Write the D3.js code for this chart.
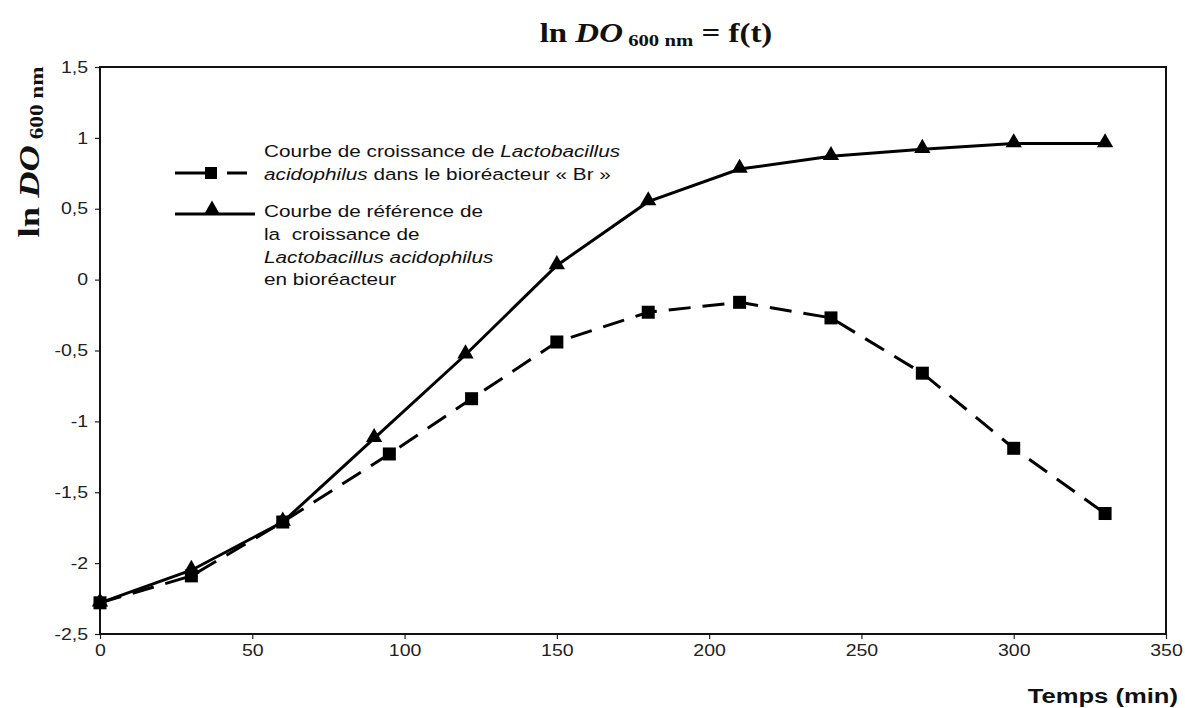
<!DOCTYPE html>
<html>
<head>
<meta charset="utf-8">
<script src="https://cdn.jsdelivr.net/npm/d3@7"></script>
<style>
  body { margin: 0; background: #fff; }
  svg { display: block; }
</style>
</head>
<body>
<div id="chart"></div>
<script>
// data
const refTimes = [0, 30, 60, 90, 120, 150, 180, 210, 240, 270, 300, 330];
const refValues = [-2.28, -2.05, -1.71, -1.12, -0.53, 0.10, 0.55, 0.78, 0.87, 0.92, 0.96, 0.96];
const brTimes = [0, 30, 60, 95, 122, 150, 180, 210, 240, 270, 300, 330];
const brValues = [-2.28, -2.09, -1.71, -1.23, -0.84, -0.44, -0.23, -0.16, -0.27, -0.66, -1.19, -1.65];
const xTicks = [0, 50, 100, 150, 200, 250, 300, 350];
const yTicks = [1.5, 1, 0.5, 0, -0.5, -1, -1.5, -2, -2.5];

const W = 1185, H = 708;
const margin = { top: 67, right: 19, bottom: 74, left: 100 },
    width = W - margin.left - margin.right,
    height = H - margin.top - margin.bottom;

// the scanned figure is stretched sideways, so text gets a horizontal scale
const sx = 1.22;
const sans = "Liberation Sans, Arial, sans-serif";
const serif = "Liberation Serif, Times New Roman, serif";

const svg = d3.select("#chart")
    .append("svg")
    .attr("width", W)
    .attr("height", H);

const g = svg.append("g")
    .attr("transform", `translate(${margin.left}, ${margin.top})`);

const x = d3.scaleLinear().domain([0, 350]).range([0, width]);
const y = d3.scaleLinear().domain([-2.5, 1.5]).range([height, 0]);

const fmt = d => String(d).replace(".", ",");

// axes
const xAxis = g.append("g")
    .attr("transform", `translate(0, ${height})`)
    .call(d3.axisBottom(x).tickValues(xTicks).tickSize(5).tickPadding(6).tickFormat(fmt));
const yAxis = g.append("g")
    .call(d3.axisLeft(y).tickValues(yTicks).tickSize(5).tickPadding(6).tickFormat(fmt));

[xAxis, yAxis].forEach(a => {
    a.select(".domain").remove();
    a.selectAll("line").attr("stroke", "#222").attr("stroke-width", 1.2);
    a.selectAll("text")
        .style("font-family", sans)
        .style("font-size", "16px")
        .attr("fill", "#222");
});
xAxis.selectAll("text").attr("transform", `scale(${sx},1)`);
yAxis.selectAll("text")
    .attr("x", -12 / sx)
    .attr("transform", `scale(${sx},1)`);

// frame
g.append("rect")
    .attr("x", 0).attr("y", 0)
    .attr("width", width).attr("height", height)
    .attr("fill", "none")
    .attr("stroke", "#111")
    .attr("stroke-width", 2);

const line = d3.line()
    .x(d => x(d[0]))
    .y(d => y(d[1]));

const refData = refTimes.map((t, i) => [t, refValues[i]]);
const brData = brTimes.map((t, i) => [t, brValues[i]]);

// Br curve (dashed, squares)
g.append("path")
    .datum(brData)
    .attr("d", line)
    .attr("fill", "none")
    .attr("stroke", "#000")
    .attr("stroke-width", 3)
    .attr("stroke-dasharray", "22,12");

// reference curve (solid, triangles)
g.append("path")
    .datum(refData)
    .attr("d", line)
    .attr("fill", "none")
    .attr("stroke", "#000")
    .attr("stroke-width", 3);

const sq = 13;
g.selectAll(".sq")
    .data(brData)
    .enter()
    .append("rect")
    .attr("class", "sq")
    .attr("x", d => x(d[0]) - sq / 2)
    .attr("y", d => y(d[1]) - sq / 2)
    .attr("width", sq)
    .attr("height", sq)
    .attr("fill", "#000");

const tri = d3.symbol().type(d3.symbolTriangle).size(115);
g.selectAll(".tri")
    .data(refData)
    .enter()
    .append("path")
    .attr("class", "tri")
    .attr("d", tri)
    .attr("transform", d => `translate(${x(d[0])}, ${y(d[1]) - 1})`)
    .attr("fill", "#000");

// legend
const leg = svg.append("g");

leg.append("line")
    .attr("x1", 175).attr("x2", 206).attr("y1", 173).attr("y2", 173)
    .attr("stroke", "#000").attr("stroke-width", 3);
leg.append("line")
    .attr("x1", 218).attr("x2", 256).attr("y1", 173).attr("y2", 173)
    .attr("stroke", "#000").attr("stroke-width", 3)
    .attr("stroke-dasharray", "0,9,20,20");
leg.append("rect")
    .attr("x", 205).attr("y", 167).attr("width", 12).attr("height", 12)
    .attr("fill", "#000");

leg.append("line")
    .attr("x1", 175).attr("x2", 255).attr("y1", 214).attr("y2", 214)
    .attr("stroke", "#000").attr("stroke-width", 3);
leg.append("path")
    .attr("d", tri)
    .attr("transform", "translate(212, 210)")
    .attr("fill", "#000");

function stretchedText(px, py, size, family) {
    return svg.append("text")
        .attr("transform", `translate(${px}, ${py}) scale(${sx},1)`)
        .style("font-family", family)
        .style("font-size", size + "px")
        .attr("fill", "#111");
}

const t1 = stretchedText(264, 157, 17, sans);
t1.append("tspan").text("Courbe de croissance de ");
t1.append("tspan").style("font-style", "italic").text("Lactobacillus");
const t2 = stretchedText(264, 180, 17, sans);
t2.append("tspan").style("font-style", "italic").text("acidophilus");
t2.append("tspan").text(" dans le bioréacteur « Br »");

stretchedText(264, 217, 17, sans).text("Courbe de référence de");
stretchedText(264, 240, 17, sans).attr("xml:space", "preserve").text("la  croissance de");
stretchedText(264, 263, 17, sans).style("font-style", "italic").text("Lactobacillus acidophilus");
stretchedText(264, 285, 17, sans).text("en bioréacteur");

// title
const title = stretchedText(656, 42, 27, serif)
    .attr("text-anchor", "middle")
    .style("font-weight", "bold");
title.append("tspan").text("ln ");
title.append("tspan").style("font-style", "italic").text("DO");
title.append("tspan").style("font-size", "17px").attr("dy", 4).text(" 600 nm");
title.append("tspan").attr("dy", -4).text(" = f(t)");

// y label
const ylab = svg.append("text")
    .attr("transform", `translate(39, 152) rotate(-90) scale(${sx},1)`)
    .attr("text-anchor", "middle")
    .style("font-family", serif)
    .style("font-weight", "bold")
    .style("font-size", "30px")
    .attr("fill", "#111");
ylab.append("tspan").text("ln ");
ylab.append("tspan").style("font-style", "italic").text("DO");
ylab.append("tspan").style("font-size", "19px").attr("dy", 4).text("  600 nm");

// x label
stretchedText(1178, 703, 21, sans)
    .attr("text-anchor", "end")
    .style("font-weight", "bold")
    .text("Temps (min)");
</script>
</body>
</html>
